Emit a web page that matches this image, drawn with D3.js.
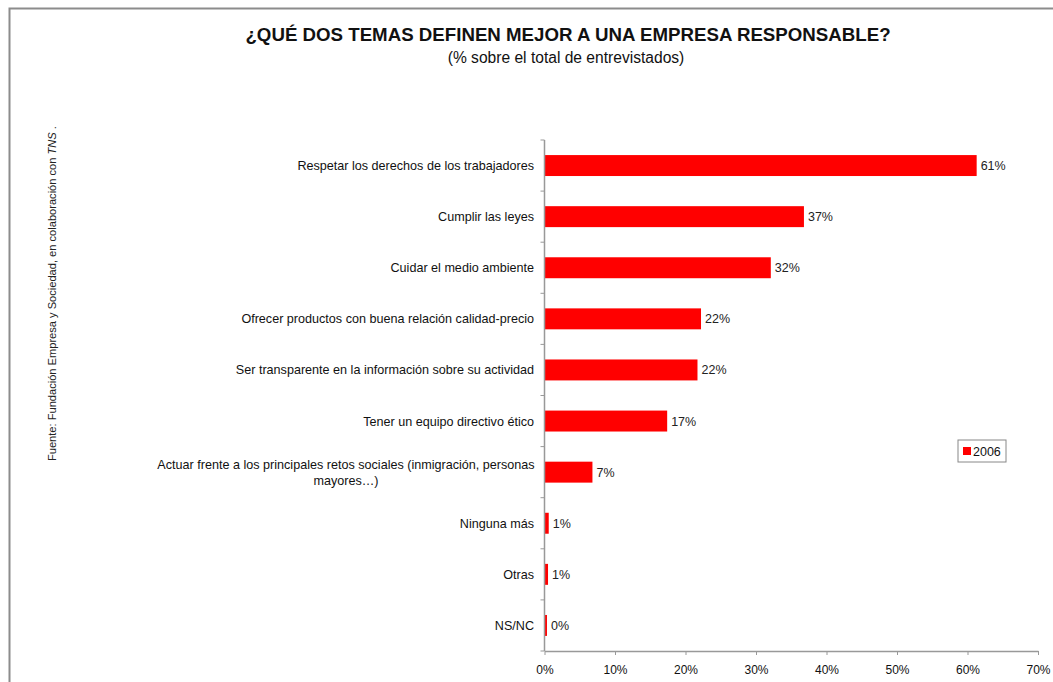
<!DOCTYPE html>
<html><head><meta charset="utf-8">
<script src="https://cdn.jsdelivr.net/npm/d3@7"></script>
<style>body{margin:0;background:#fff}svg{display:block;font-family:"Liberation Sans",Arial,sans-serif}</style>
</head><body><svg id="c" width="1053" height="682"></svg>
<script>
const categories = [
  "Respetar los derechos de los trabajadores",
  "Cumplir las leyes",
  "Cuidar el medio ambiente",
  "Ofrecer productos con buena relación calidad-precio",
  "Ser transparente en la información sobre su actividad",
  "Tener un equipo directivo ético",
  "Actuar frente a los principales retos sociales (inmigración, personas|mayores…)",
  "Ninguna más",
  "Otras",
  "NS/NC"
];
const values2006 = [61.3, 36.8, 32.1, 22.2, 21.7, 17.4, 6.8, 0.6, 0.5, 0.35];
const valueLabels = ["61%", "37%", "32%", "22%", "22%", "17%", "7%", "1%", "1%", "0%"];
const xTicks = [0, 10, 20, 30, 40, 50, 60, 70];
const seriesName = "2006";

const svg = d3.select("#c");
// frame
svg.append("path").attr("d", "M9.5,682 V8.5 H1053").attr("fill", "none").attr("stroke", "#8c8c8c").attr("stroke-width", 2);

svg.append("text").attr("x", 568).attr("y", 41).attr("text-anchor", "middle")
  .attr("font-size", 18.7).attr("font-weight", "bold").attr("fill", "#111").text("¿QUÉ DOS TEMAS DEFINEN MEJOR A UNA EMPRESA RESPONSABLE?");
svg.append("text").attr("x", 566).attr("y", 63).attr("text-anchor", "middle")
  .attr("font-size", 15.6).attr("fill", "#111").text("(% sobre el total de entrevistados)");

const src = svg.append("text").attr("transform", "translate(56,461) rotate(-90)").attr("font-size", 11.1).attr("fill", "#222");
src.append("tspan").text("Fuente: Fundación Empresa y Sociedad, en colaboración con ");
src.append("tspan").attr("font-style", "italic").text("TNS");
src.append("tspan").text(" .");

const x = d3.scaleLinear().domain([0, 70]).range([544.5, 1038]);
const y = d3.scaleBand().domain(categories).range([140, 651]).paddingInner(0.59).paddingOuter(0.295);
const yb = d3.scaleBand().domain(categories).range([140, 651]);

svg.selectAll("rect.bar").data(categories).join("rect").attr("class", "bar")
  .attr("x", x(0)).attr("y", d => y(d)).attr("height", y.bandwidth())
  .attr("width", (d, i) => x(values2006[i]) - x(0)).attr("fill", "#ff0000");

svg.selectAll("text.val").data(categories).join("text").attr("class", "val")
  .attr("x", (d, i) => x(values2006[i]) + 4).attr("y", d => y(d) + y.bandwidth() / 2 + 4.5)
  .attr("font-size", 12.5).attr("fill", "#222").text((d, i) => valueLabels[i]);

// y axis
const gy = svg.append("g");
gy.append("line").attr("x1", x(0)).attr("x2", x(0)).attr("y1", 140).attr("y2", 651).attr("stroke", "#999").attr("stroke-width", 1.5);
const yTickPos = categories.map(c => yb(c)).concat([651]);
gy.selectAll("line.t").data(yTickPos).join("line").attr("class", "t")
  .attr("x1", x(0) - 4).attr("x2", x(0)).attr("y1", d => d).attr("y2", d => d).attr("stroke", "#999");
categories.forEach((c, i) => {
  const parts = c.split("|");
  const cy = yb(c) + yb.bandwidth() / 2;
  const t = svg.append("text").attr("font-size", 12.6).attr("fill", "#111").attr("text-anchor", parts.length > 1 ? "middle" : "end");
  if (parts.length > 1) {
    parts.forEach((p, j) => t.append("tspan").attr("x", 346).attr("y", cy + 5 - 8 + j * 16).text(p));
  } else {
    t.attr("x", 534).attr("y", cy + 4.5).text(c);
  }
});

// x axis
const gx = svg.append("g").attr("transform", "translate(0,651)")
  .call(d3.axisBottom(x).tickValues(xTicks).tickFormat(d => d + "%").tickSize(4).tickSizeOuter(0));
gx.select(".domain").attr("stroke", "#999").attr("stroke-width", 1.5);
gx.selectAll(".tick line").attr("stroke", "#999");
gx.selectAll(".tick text").attr("font-size", 12).attr("fill", "#111").attr("dy", "1.3em").attr("font-family", "Liberation Sans, Arial, sans-serif");

// legend
const lg = svg.append("g").attr("transform", "translate(958,440)");
lg.append("rect").attr("width", 48).attr("height", 22).attr("fill", "#fff").attr("stroke", "#888");
lg.append("rect").attr("x", 5).attr("y", 7).attr("width", 8).attr("height", 8).attr("fill", "#ff0000");
lg.append("text").attr("x", 15).attr("y", 15.5).attr("font-size", 12.5).attr("fill", "#111").text(seriesName);
</script></body></html>
